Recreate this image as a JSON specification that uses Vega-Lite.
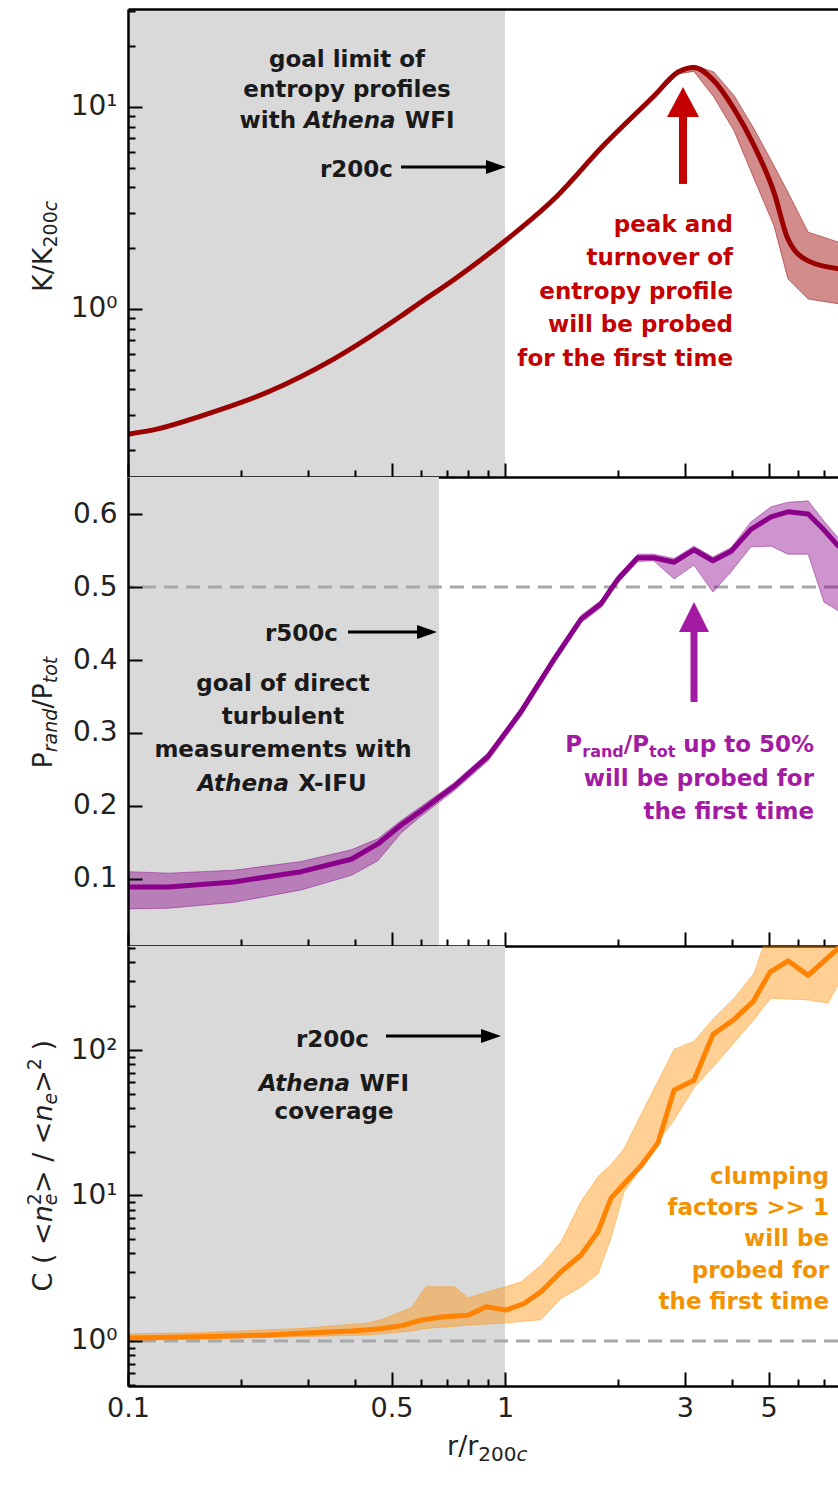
{
"$schema": "https://vega.github.io/schema/vega-lite/v6.json",
"background": "white",
"padding": {"left": 25, "top": 9, "right": 0, "bottom": 5},
"config": {"view": {"stroke": null}, "axis": {"zindex": 1}},
"spacing": 0,
"bounds": "flush",
"datasets": {
"shade1": [{"a": 0.1, "b": 1.0}],
"shade2": [{"a": 0.1, "b": 0.668}],
"shade3": [{"a": 0.1, "b": 1.0}],
"dash2": [{"y": 0.5}],
"dash3": [{"y": 1.0}],
"one1": [{"x": 1, "y": 1}],
"one2": [{"x": 1, "y": 0.3}],
"one3": [{"x": 1, "y": 10}],
"k1": [{"x":0.1,"y":0.24},{"x":0.12,"y":0.255},{"x":0.156,"y":0.295},{"x":0.235,"y":0.388},{"x":0.351,"y":0.565},{"x":0.53,"y":0.923},{"x":0.598,"y":1.08},{"x":0.733,"y":1.4},{"x":1.0,"y":2.17},{"x":1.349,"y":3.5},{"x":1.832,"y":6.5},{"x":2.48,"y":11.3},{"x":2.88,"y":14.9},{"x":3.17,"y":15.7},{"x":3.58,"y":13.5},{"x":4.05,"y":9.78},{"x":4.58,"y":6.43},{"x":5.17,"y":3.78},{"x":5.63,"y":2.22},{"x":6.37,"y":1.73},{"x":7.69,"y":1.58}],
"k1b": [{"x":2.48,"lo":11.1,"hi":11.5},{"x":2.88,"lo":14.6,"hi":15.2},{"x":3.17,"lo":15.0,"hi":16.1},{"x":3.58,"lo":11.2,"hi":14.9},{"x":4.05,"lo":7.63,"hi":11.4},{"x":4.58,"lo":4.4,"hi":7.78},{"x":5.17,"lo":2.58,"hi":5.12},{"x":5.63,"lo":1.41,"hi":3.78},{"x":6.37,"lo":1.12,"hi":2.4},{"x":7.69,"lo":1.06,"hi":2.14}],
"p2": [{"x":0.1,"y":0.089},{"x":0.128,"y":0.089},{"x":0.191,"y":0.096},{"x":0.288,"y":0.11},{"x":0.391,"y":0.127},{"x":0.46,"y":0.148},{"x":0.53,"y":0.174},{"x":0.598,"y":0.193},{"x":0.733,"y":0.227},{"x":0.902,"y":0.268},{"x":1.102,"y":0.329},{"x":1.349,"y":0.401},{"x":1.591,"y":0.456},{"x":1.798,"y":0.477},{"x":1.91,"y":0.497},{"x":1.995,"y":0.511},{"x":2.25,"y":0.54},{"x":2.48,"y":0.54},{"x":2.81,"y":0.534},{"x":3.17,"y":0.551},{"x":3.56,"y":0.536},{"x":3.98,"y":0.549},{"x":4.49,"y":0.579},{"x":5.08,"y":0.596},{"x":5.63,"y":0.603},{"x":6.37,"y":0.6},{"x":7.02,"y":0.578},{"x":7.69,"y":0.555}],
"p2b": [{"x":0.1,"lo":0.059,"hi":0.11},{"x":0.128,"lo":0.06,"hi":0.108},{"x":0.191,"lo":0.068,"hi":0.112},{"x":0.288,"lo":0.085,"hi":0.124},{"x":0.391,"lo":0.105,"hi":0.14},{"x":0.46,"lo":0.125,"hi":0.155},{"x":0.53,"lo":0.163,"hi":0.18},{"x":0.598,"lo":0.186,"hi":0.199},{"x":0.733,"lo":0.221,"hi":0.232},{"x":0.902,"lo":0.262,"hi":0.273},{"x":1.102,"lo":0.323,"hi":0.334},{"x":1.349,"lo":0.395,"hi":0.406},{"x":1.591,"lo":0.451,"hi":0.461},{"x":1.798,"lo":0.472,"hi":0.482},{"x":1.91,"lo":0.492,"hi":0.502},{"x":1.995,"lo":0.506,"hi":0.516},{"x":2.25,"lo":0.535,"hi":0.545},{"x":2.48,"lo":0.536,"hi":0.545},{"x":2.81,"lo":0.511,"hi":0.539},{"x":3.17,"lo":0.53,"hi":0.556},{"x":3.56,"lo":0.493,"hi":0.541},{"x":3.98,"lo":0.521,"hi":0.554},{"x":4.49,"lo":0.555,"hi":0.589},{"x":5.08,"lo":0.556,"hi":0.61},{"x":5.63,"lo":0.545,"hi":0.616},{"x":6.37,"lo":0.545,"hi":0.618},{"x":7.02,"lo":0.479,"hi":0.59},{"x":7.69,"lo":0.467,"hi":0.566}],
"c3": [{"x":0.1,"y":1.05},{"x":0.156,"y":1.07},{"x":0.235,"y":1.1},{"x":0.288,"y":1.13},{"x":0.391,"y":1.17},{"x":0.46,"y":1.21},{"x":0.53,"y":1.27},{"x":0.598,"y":1.39},{"x":0.676,"y":1.46},{"x":0.798,"y":1.5},{"x":0.891,"y":1.72},{"x":1.006,"y":1.63},{"x":1.123,"y":1.81},{"x":1.246,"y":2.18},{"x":1.408,"y":2.99},{"x":1.591,"y":3.9},{"x":1.765,"y":5.65},{"x":1.91,"y":9.59},{"x":2.056,"y":11.8},{"x":2.295,"y":16.0},{"x":2.545,"y":23},{"x":2.808,"y":53},{"x":3.172,"y":62},{"x":3.562,"y":128},{"x":4.026,"y":160},{"x":4.549,"y":215},{"x":5.046,"y":343},{"x":5.63,"y":410},{"x":6.365,"y":326},{"x":7.69,"y":505}],
"c3b": [{"x":0.1,"lo":1.01,"hi":1.12},{"x":0.156,"lo":1.03,"hi":1.14},{"x":0.288,"lo":1.07,"hi":1.22},{"x":0.433,"lo":1.1,"hi":1.33},{"x":0.47,"lo":1.12,"hi":1.4},{"x":0.565,"lo":1.17,"hi":1.7},{"x":0.617,"lo":1.22,"hi":2.36},{"x":0.733,"lo":1.26,"hi":2.36},{"x":0.798,"lo":1.29,"hi":1.98},{"x":0.902,"lo":1.31,"hi":2.18},{"x":1.006,"lo":1.33,"hi":2.36},{"x":1.103,"lo":1.36,"hi":2.55},{"x":1.246,"lo":1.4,"hi":3.32},{"x":1.408,"lo":1.96,"hi":4.8},{"x":1.591,"lo":2.35,"hi":9.09},{"x":1.765,"lo":2.9,"hi":13.5},{"x":1.91,"lo":5.08,"hi":16.3},{"x":2.069,"lo":10.6,"hi":21},{"x":2.254,"lo":14.5,"hi":32.8},{"x":2.484,"lo":21.5,"hi":53.9},{"x":2.808,"lo":33,"hi":101},{"x":3.172,"lo":55,"hi":115},{"x":3.585,"lo":77.8,"hi":166},{"x":4.05,"lo":112,"hi":227},{"x":4.577,"lo":162,"hi":337},{"x":4.835,"lo":195,"hi":512},{"x":5.077,"lo":227,"hi":650},{"x":5.63,"lo":224,"hi":750},{"x":6.365,"lo":221,"hi":700},{"x":7.193,"lo":210,"hi":800},{"x":7.69,"lo":288,"hi":900}],
"ar1": [{"x":0.53,"x2":0.9,"y":5.047,"y2":5.047,"c":"#000000","w":3},{"x":2.966,"x2":2.966,"y":4.16,"y2":8.92,"c":"#c40000","w":8}],
"hd1": [{"x":0.946,"y":5.047,"c":"#000000","sh":"M-1,-0.7L1,0L-1,0.7Z","z":400},{"x":2.966,"y":10.59,"c":"#c40000","sh":"M-1,0.9375L0,-0.9375L1,0.9375Z","z":1024}],
"ar2": [{"x":0.3835,"x2":0.585,"y":0.4384,"y2":0.4384,"c":"#000000","w":3},{"x":3.172,"x2":3.172,"y":0.3425,"y2":0.4425,"c":"#a31aa3","w":7}],
"hd2": [{"x":0.621,"y":0.4384,"c":"#000000","sh":"M-1,-0.7L1,0L-1,0.7Z","z":400},{"x":3.172,"y":0.4589,"c":"#a31aa3","sh":"M-1,1L0,-1L1,1Z","z":900}],
"ar3": [{"x":0.4835,"x2":0.864,"y":124.8,"y2":124.8,"c":"#000000","w":3}],
"hd3": [{"x":0.918,"y":124.8,"c":"#000000","sh":"M-1,-0.7L1,0L-1,0.7Z","z":400}],
"tx1": [
{"s":"tn","x":0.06285,"y":1.214,"t":"K/K","z":27},
{"s":"tn","x":0.06481,"y":2.016,"t":"200","z":19},
{"s":"ti","x":0.06481,"y":3.05,"t":"c","z":19},
{"s":"ac","x":0.381,"y":15.78,"t":"goal limit of\nentropy profiles","c":"#1a1a1a"},
{"s":"al","x":0.1977,"y":7.87,"t":"with","z":23,"c":"#1a1a1a"},
{"s":"ai","x":0.2932,"y":7.87,"t":"Athena","z":23,"c":"#1a1a1a"},
{"s":"al","x":0.5423,"y":7.87,"t":"WFI","z":23,"c":"#1a1a1a"},
{"s":"ar","x":0.5045,"y":4.503,"t":"r200c","c":"#1a1a1a"},
{"s":"ar","x":4.026,"y":2.405,"t":"peak and\nturnover of\nentropy profile\nwill be probed\nfor the first time","c":"#c40000"}
],
"tx2": [
{"s":"tn","x":0.06285,"y":0.2514,"t":"P","z":27},
{"s":"ti","x":0.06481,"y":0.2737,"t":"rand","z":19},
{"s":"tn","x":0.06285,"y":0.3334,"t":"/P","z":27},
{"s":"ti","x":0.06481,"y":0.3682,"t":"tot","z":19},
{"s":"ar","x":0.3606,"y":0.426,"t":"r500c","c":"#1a1a1a"},
{"s":"ac","x":0.2577,"y":0.3575,"t":"goal of direct\nturbulent\nmeasurements with","c":"#1a1a1a"},
{"s":"ai","x":0.1529,"y":0.2205,"t":"Athena","z":23,"c":"#1a1a1a"},
{"s":"al","x":0.2828,"y":0.2205,"t":"X-IFU","z":23,"c":"#1a1a1a"},
{"s":"al","x":1.445,"y":0.274,"t":"P","z":23,"c":"#a31aa3"},
{"s":"al","x":1.603,"y":0.2671,"t":"rand","z":16,"c":"#a31aa3"},
{"s":"al","x":2.065,"y":0.274,"t":"/P","z":23,"c":"#a31aa3"},
{"s":"al","x":2.41,"y":0.2671,"t":"tot","z":16,"c":"#a31aa3"},
{"s":"al","x":2.972,"y":0.274,"t":"up to 50%","z":23,"c":"#a31aa3"},
{"s":"ar","x":6.601,"y":0.2274,"t":"will be probed for\nthe first time","c":"#a31aa3"}
],
"tx3": [
{"s":"tn","x":0.06285,"y":2.189,"t":"C ( <","z":27},
{"s":"ti","x":0.06285,"y":6.544,"t":"n","z":27},
{"s":"tn","x":0.05877,"y":8.578,"t":"2","z":19},
{"s":"ti","x":0.06481,"y":8.578,"t":"e","z":19},
{"s":"tn","x":0.06285,"y":10.39,"t":"> / <","z":27},
{"s":"ti","x":0.06285,"y":32.2,"t":"n","z":27},
{"s":"ti","x":0.06481,"y":42.21,"t":"e","z":19},
{"s":"tn","x":0.06285,"y":50.79,"t":">","z":27},
{"s":"tn","x":0.05877,"y":72.64,"t":"2","z":19},
{"s":"tn","x":0.06285,"y":99.2,"t":")","z":27},
{"s":"xn","x":0.7019,"y":0.1646,"t":"r/r","z":27},
{"s":"xn","x":0.8496,"y":0.1497,"t":"200","z":20},
{"s":"xi","x":1.073,"y":0.1497,"t":"c","z":20},
{"s":"ar","x":0.4358,"y":104.9,"t":"r200c","c":"#1a1a1a"},
{"s":"ai","x":0.2222,"y":52.5,"t":"Athena","z":23,"c":"#1a1a1a"},
{"s":"al","x":0.4113,"y":52.5,"t":"WFI","z":23,"c":"#1a1a1a"},
{"s":"ac","x":0.352,"y":33.5,"t":"coverage","c":"#1a1a1a"},
{"s":"ar","x":7.236,"y":12.0,"t":"clumping\nfactors >> 1\nwill be\nprobed for\nthe first time","c":"#f39200"}
]
},
"vconcat": [
{
"width": 710, "height": 468,
"resolve": {"axis": {"x": "independent", "y": "independent"}},
"layer": [
{"data": {"name": "shade1"}, "mark": {"type": "rect", "color": "#d9d9d9"}, "encoding": {"x": {"field": "a", "type": "quantitative", "scale": {"type": "log", "domain": [0.1, 7.643], "nice": false}, "axis": null}, "x2": {"field": "b"}}},
{"data": {"name": "k1b"}, "mark": {"type": "area", "fill": "#9b0000", "fillOpacity": 0.45, "stroke": "#9b0000", "strokeOpacity": 0.5, "strokeWidth": 1, "clip": true}, "encoding": {"x": {"field": "x", "type": "quantitative", "scale": {"type": "log", "domain": [0.1, 7.643], "nice": false}, "axis": null}, "y": {"field": "lo", "type": "quantitative", "scale": {"type": "log", "domain": [0.1473, 30.55], "nice": false}, "axis": null}, "y2": {"field": "hi"}}},
{"data": {"name": "k1"}, "mark": {"type": "line", "color": "#9b0000", "strokeWidth": 5, "strokeJoin": "round", "interpolate": "monotone", "clip": true}, "encoding": {"x": {"field": "x", "type": "quantitative", "scale": {"type": "log", "domain": [0.1, 7.643], "nice": false}, "axis": null}, "y": {"field": "y", "type": "quantitative", "scale": {"type": "log", "domain": [0.1473, 30.55], "nice": false}, "axis": null}}},
{"data": {"name": "ar1"}, "mark": {"type": "rule", "strokeCap": "butt"}, "encoding": {"x": {"field": "x", "type": "quantitative", "scale": {"type": "log", "domain": [0.1, 7.643], "nice": false}, "axis": null}, "x2": {"field": "x2"}, "y": {"field": "y", "type": "quantitative", "scale": {"type": "log", "domain": [0.1473, 30.55], "nice": false}, "axis": null}, "y2": {"field": "y2"}, "color": {"field": "c", "type": "nominal", "scale": null}, "strokeWidth": {"field": "w", "type": "quantitative", "scale": null}}},
{"data": {"name": "hd1"}, "mark": {"type": "point", "filled": true, "opacity": 1, "strokeWidth": 0}, "encoding": {"x": {"field": "x", "type": "quantitative", "scale": {"type": "log", "domain": [0.1, 7.643], "nice": false}, "axis": null}, "y": {"field": "y", "type": "quantitative", "scale": {"type": "log", "domain": [0.1473, 30.55], "nice": false}, "axis": null}, "color": {"field": "c", "type": "nominal", "scale": null}, "shape": {"field": "sh", "type": "nominal", "scale": null}, "size": {"field": "z", "type": "quantitative", "scale": null}}},
{"data": {"name": "tx1"}, "transform": [{"filter": "datum.s == 'tn'"}], "mark": {"type": "text", "font": "DejaVu Sans", "angle": 270, "align": "left", "baseline": "alphabetic", "color": "#222222"}, "encoding": {"x": {"field": "x", "type": "quantitative", "scale": {"type": "log", "domain": [0.1, 7.643], "nice": false}, "axis": null}, "y": {"field": "y", "type": "quantitative", "scale": {"type": "log", "domain": [0.1473, 30.55], "nice": false}, "axis": null}, "text": {"field": "t", "type": "nominal"}, "size": {"field": "z", "type": "quantitative", "scale": null}}},
{"data": {"name": "tx1"}, "transform": [{"filter": "datum.s == 'ti'"}], "mark": {"type": "text", "font": "DejaVu Sans", "fontStyle": "italic", "angle": 270, "align": "left", "baseline": "alphabetic", "color": "#222222"}, "encoding": {"x": {"field": "x", "type": "quantitative", "scale": {"type": "log", "domain": [0.1, 7.643], "nice": false}, "axis": null}, "y": {"field": "y", "type": "quantitative", "scale": {"type": "log", "domain": [0.1473, 30.55], "nice": false}, "axis": null}, "text": {"field": "t", "type": "nominal"}, "size": {"field": "z", "type": "quantitative", "scale": null}}},
{"data": {"name": "tx1"}, "transform": [{"filter": "datum.s == 'al'"}], "mark": {"type": "text", "font": "DejaVu Sans", "fontWeight": "bold", "align": "left", "baseline": "alphabetic"}, "encoding": {"x": {"field": "x", "type": "quantitative", "scale": {"type": "log", "domain": [0.1, 7.643], "nice": false}, "axis": null}, "y": {"field": "y", "type": "quantitative", "scale": {"type": "log", "domain": [0.1473, 30.55], "nice": false}, "axis": null}, "text": {"field": "t", "type": "nominal"}, "size": {"field": "z", "type": "quantitative", "scale": null}, "color": {"field": "c", "type": "nominal", "scale": null}}},
{"data": {"name": "tx1"}, "transform": [{"filter": "datum.s == 'ai'"}], "mark": {"type": "text", "font": "DejaVu Sans", "fontWeight": "bold", "fontStyle": "italic", "align": "left", "baseline": "alphabetic"}, "encoding": {"x": {"field": "x", "type": "quantitative", "scale": {"type": "log", "domain": [0.1, 7.643], "nice": false}, "axis": null}, "y": {"field": "y", "type": "quantitative", "scale": {"type": "log", "domain": [0.1473, 30.55], "nice": false}, "axis": null}, "text": {"field": "t", "type": "nominal"}, "size": {"field": "z", "type": "quantitative", "scale": null}, "color": {"field": "c", "type": "nominal", "scale": null}}},
{"data": {"name": "tx1"}, "transform": [{"filter": "datum.s == 'ac'"}], "mark": {"type": "text", "font": "DejaVu Sans", "fontWeight": "bold", "fontSize": 23, "align": "center", "baseline": "alphabetic", "lineBreak": "\n", "lineHeight": 30.5}, "encoding": {"x": {"field": "x", "type": "quantitative", "scale": {"type": "log", "domain": [0.1, 7.643], "nice": false}, "axis": null}, "y": {"field": "y", "type": "quantitative", "scale": {"type": "log", "domain": [0.1473, 30.55], "nice": false}, "axis": null}, "text": {"field": "t", "type": "nominal"}, "color": {"field": "c", "type": "nominal", "scale": null}}},
{"data": {"name": "tx1"}, "transform": [{"filter": "datum.s == 'ar'"}], "mark": {"type": "text", "font": "DejaVu Sans", "fontWeight": "bold", "fontSize": 23, "align": "right", "baseline": "alphabetic", "lineBreak": "\n", "lineHeight": 33.5}, "encoding": {"x": {"field": "x", "type": "quantitative", "scale": {"type": "log", "domain": [0.1, 7.643], "nice": false}, "axis": null}, "y": {"field": "y", "type": "quantitative", "scale": {"type": "log", "domain": [0.1473, 30.55], "nice": false}, "axis": null}, "text": {"field": "t", "type": "nominal"}, "color": {"field": "c", "type": "nominal", "scale": null}}},
{"data": {"name": "one1"}, "mark": {"type": "point", "opacity": 0}, "encoding": {"x": {"field": "x", "type": "quantitative", "scale": {"type": "log", "domain": [0.1, 7.643], "nice": false}, "axis": {"orient": "bottom", "values": [0.1, 0.5, 1, 3, 5], "labels": false, "tickSize": -14, "tickWidth": 2, "tickColor": "#000000", "domain": true, "domainColor": "#000000", "domainWidth": 2.5, "grid": false, "title": null, "zindex": 1}}, "y": {"field": "y", "type": "quantitative", "scale": {"type": "log", "domain": [0.1473, 30.55], "nice": false}, "axis": {"orient": "left", "values": [1, 10], "labelExpr": "datum.value == 1 ? '10⁰' : '10¹'", "labelFont": "DejaVu Sans", "labelFontSize": 28, "labelColor": "#222222", "labelPadding": 25, "labelFlush": false, "labelOverlap": false, "tickSize": -14, "tickWidth": 2, "tickColor": "#000000", "domain": true, "domainColor": "#000000", "domainWidth": 2.5, "grid": false, "title": null, "zindex": 1}}}},
{"data": {"name": "one1"}, "mark": {"type": "point", "opacity": 0}, "encoding": {"x": {"field": "x", "type": "quantitative", "scale": {"type": "log", "domain": [0.1, 7.643], "nice": false}, "axis": {"orient": "bottom", "values": [0.2, 0.3, 0.4, 0.6, 0.7, 0.8, 0.9, 2, 4, 6, 7], "labels": false, "tickSize": -7, "tickWidth": 2, "tickColor": "#000000", "domain": false, "grid": false, "title": null, "zindex": 1}}, "y": {"field": "y", "type": "quantitative", "scale": {"type": "log", "domain": [0.1473, 30.55], "nice": false}, "axis": {"orient": "left", "values": [0.2, 0.3, 0.4, 0.5, 0.6, 0.7, 0.8, 0.9, 2, 3, 4, 5, 6, 7, 8, 9, 20, 30], "labels": false, "tickSize": -7, "tickWidth": 2, "tickColor": "#000000", "domain": false, "grid": false, "title": null, "zindex": 1}}}},
{"data": {"name": "one1"}, "mark": {"type": "point", "opacity": 0}, "encoding": {"x": {"field": "x", "type": "quantitative", "scale": {"type": "log", "domain": [0.1, 7.643], "nice": false}, "axis": {"orient": "top", "ticks": false, "labels": false, "domain": true, "domainColor": "#000000", "domainWidth": 2.5, "grid": false, "title": null, "zindex": 1}}, "y": {"field": "y", "type": "quantitative", "scale": {"type": "log", "domain": [0.1473, 30.55], "nice": false}, "axis": null}}}
]
},
{
"width": 710, "height": 469,
"resolve": {"axis": {"x": "independent", "y": "independent"}},
"layer": [
{"data": {"name": "shade2"}, "mark": {"type": "rect", "color": "#d9d9d9"}, "encoding": {"x": {"field": "a", "type": "quantitative", "scale": {"type": "log", "domain": [0.1, 7.643], "nice": false}, "axis": null}, "x2": {"field": "b"}}},
{"data": {"name": "dash2"}, "mark": {"type": "rule", "color": "#a8a8a8", "strokeWidth": 3, "strokeDash": [14, 8]}, "encoding": {"y": {"field": "y", "type": "quantitative", "scale": {"type": "linear", "domain": [0.0082, 0.6507], "nice": false, "zero": false}, "axis": null}}},
{"data": {"name": "p2b"}, "mark": {"type": "area", "fill": "#8a008a", "fillOpacity": 0.42, "stroke": "#8a008a", "strokeOpacity": 0.45, "strokeWidth": 1, "clip": true}, "encoding": {"x": {"field": "x", "type": "quantitative", "scale": {"type": "log", "domain": [0.1, 7.643], "nice": false}, "axis": null}, "y": {"field": "lo", "type": "quantitative", "scale": {"type": "linear", "domain": [0.0082, 0.6507], "nice": false, "zero": false}, "axis": null}, "y2": {"field": "hi"}}},
{"data": {"name": "p2"}, "mark": {"type": "line", "color": "#8a008a", "strokeWidth": 5, "strokeJoin": "round", "clip": true}, "encoding": {"x": {"field": "x", "type": "quantitative", "scale": {"type": "log", "domain": [0.1, 7.643], "nice": false}, "axis": null}, "y": {"field": "y", "type": "quantitative", "scale": {"type": "linear", "domain": [0.0082, 0.6507], "nice": false, "zero": false}, "axis": null}}},
{"data": {"name": "ar2"}, "mark": {"type": "rule", "strokeCap": "butt"}, "encoding": {"x": {"field": "x", "type": "quantitative", "scale": {"type": "log", "domain": [0.1, 7.643], "nice": false}, "axis": null}, "x2": {"field": "x2"}, "y": {"field": "y", "type": "quantitative", "scale": {"type": "linear", "domain": [0.0082, 0.6507], "nice": false, "zero": false}, "axis": null}, "y2": {"field": "y2"}, "color": {"field": "c", "type": "nominal", "scale": null}, "strokeWidth": {"field": "w", "type": "quantitative", "scale": null}}},
{"data": {"name": "hd2"}, "mark": {"type": "point", "filled": true, "opacity": 1, "strokeWidth": 0}, "encoding": {"x": {"field": "x", "type": "quantitative", "scale": {"type": "log", "domain": [0.1, 7.643], "nice": false}, "axis": null}, "y": {"field": "y", "type": "quantitative", "scale": {"type": "linear", "domain": [0.0082, 0.6507], "nice": false, "zero": false}, "axis": null}, "color": {"field": "c", "type": "nominal", "scale": null}, "shape": {"field": "sh", "type": "nominal", "scale": null}, "size": {"field": "z", "type": "quantitative", "scale": null}}},
{"data": {"name": "tx2"}, "transform": [{"filter": "datum.s == 'tn'"}], "mark": {"type": "text", "font": "DejaVu Sans", "angle": 270, "align": "left", "baseline": "alphabetic", "color": "#222222"}, "encoding": {"x": {"field": "x", "type": "quantitative", "scale": {"type": "log", "domain": [0.1, 7.643], "nice": false}, "axis": null}, "y": {"field": "y", "type": "quantitative", "scale": {"type": "linear", "domain": [0.0082, 0.6507], "nice": false, "zero": false}, "axis": null}, "text": {"field": "t", "type": "nominal"}, "size": {"field": "z", "type": "quantitative", "scale": null}}},
{"data": {"name": "tx2"}, "transform": [{"filter": "datum.s == 'ti'"}], "mark": {"type": "text", "font": "DejaVu Sans", "fontStyle": "italic", "angle": 270, "align": "left", "baseline": "alphabetic", "color": "#222222"}, "encoding": {"x": {"field": "x", "type": "quantitative", "scale": {"type": "log", "domain": [0.1, 7.643], "nice": false}, "axis": null}, "y": {"field": "y", "type": "quantitative", "scale": {"type": "linear", "domain": [0.0082, 0.6507], "nice": false, "zero": false}, "axis": null}, "text": {"field": "t", "type": "nominal"}, "size": {"field": "z", "type": "quantitative", "scale": null}}},
{"data": {"name": "tx2"}, "transform": [{"filter": "datum.s == 'al'"}], "mark": {"type": "text", "font": "DejaVu Sans", "fontWeight": "bold", "align": "left", "baseline": "alphabetic"}, "encoding": {"x": {"field": "x", "type": "quantitative", "scale": {"type": "log", "domain": [0.1, 7.643], "nice": false}, "axis": null}, "y": {"field": "y", "type": "quantitative", "scale": {"type": "linear", "domain": [0.0082, 0.6507], "nice": false, "zero": false}, "axis": null}, "text": {"field": "t", "type": "nominal"}, "size": {"field": "z", "type": "quantitative", "scale": null}, "color": {"field": "c", "type": "nominal", "scale": null}}},
{"data": {"name": "tx2"}, "transform": [{"filter": "datum.s == 'ai'"}], "mark": {"type": "text", "font": "DejaVu Sans", "fontWeight": "bold", "fontStyle": "italic", "align": "left", "baseline": "alphabetic"}, "encoding": {"x": {"field": "x", "type": "quantitative", "scale": {"type": "log", "domain": [0.1, 7.643], "nice": false}, "axis": null}, "y": {"field": "y", "type": "quantitative", "scale": {"type": "linear", "domain": [0.0082, 0.6507], "nice": false, "zero": false}, "axis": null}, "text": {"field": "t", "type": "nominal"}, "size": {"field": "z", "type": "quantitative", "scale": null}, "color": {"field": "c", "type": "nominal", "scale": null}}},
{"data": {"name": "tx2"}, "transform": [{"filter": "datum.s == 'ac'"}], "mark": {"type": "text", "font": "DejaVu Sans", "fontWeight": "bold", "fontSize": 23, "align": "center", "baseline": "alphabetic", "lineBreak": "\n", "lineHeight": 33}, "encoding": {"x": {"field": "x", "type": "quantitative", "scale": {"type": "log", "domain": [0.1, 7.643], "nice": false}, "axis": null}, "y": {"field": "y", "type": "quantitative", "scale": {"type": "linear", "domain": [0.0082, 0.6507], "nice": false, "zero": false}, "axis": null}, "text": {"field": "t", "type": "nominal"}, "color": {"field": "c", "type": "nominal", "scale": null}}},
{"data": {"name": "tx2"}, "transform": [{"filter": "datum.s == 'ar'"}], "mark": {"type": "text", "font": "DejaVu Sans", "fontWeight": "bold", "fontSize": 23, "align": "right", "baseline": "alphabetic", "lineBreak": "\n", "lineHeight": 33}, "encoding": {"x": {"field": "x", "type": "quantitative", "scale": {"type": "log", "domain": [0.1, 7.643], "nice": false}, "axis": null}, "y": {"field": "y", "type": "quantitative", "scale": {"type": "linear", "domain": [0.0082, 0.6507], "nice": false, "zero": false}, "axis": null}, "text": {"field": "t", "type": "nominal"}, "color": {"field": "c", "type": "nominal", "scale": null}}},
{"data": {"name": "one2"}, "mark": {"type": "point", "opacity": 0}, "encoding": {"x": {"field": "x", "type": "quantitative", "scale": {"type": "log", "domain": [0.1, 7.643], "nice": false}, "axis": {"orient": "bottom", "values": [0.1, 0.5, 1, 3, 5], "labels": false, "tickSize": -14, "tickWidth": 2, "tickColor": "#000000", "domain": true, "domainColor": "#000000", "domainWidth": 2.5, "grid": false, "title": null, "zindex": 1}}, "y": {"field": "y", "type": "quantitative", "scale": {"type": "linear", "domain": [0.0082, 0.6507], "nice": false, "zero": false}, "axis": {"orient": "left", "values": [0.1, 0.2, 0.3, 0.4, 0.5, 0.6], "format": ".1f", "labelFont": "DejaVu Sans", "labelFontSize": 28, "labelColor": "#222222", "labelPadding": 25, "labelFlush": false, "labelOverlap": false, "tickSize": -14, "tickWidth": 2, "tickColor": "#000000", "domain": true, "domainColor": "#000000", "domainWidth": 2.5, "grid": false, "title": null, "zindex": 1}}}},
{"data": {"name": "one2"}, "mark": {"type": "point", "opacity": 0}, "encoding": {"x": {"field": "x", "type": "quantitative", "scale": {"type": "log", "domain": [0.1, 7.643], "nice": false}, "axis": {"orient": "bottom", "values": [0.2, 0.3, 0.4, 0.6, 0.7, 0.8, 0.9, 2, 4, 6, 7], "labels": false, "tickSize": -7, "tickWidth": 2, "tickColor": "#000000", "domain": false, "grid": false, "title": null, "zindex": 1}}, "y": {"field": "y", "type": "quantitative", "scale": {"type": "linear", "domain": [0.0082, 0.6507], "nice": false, "zero": false}, "axis": null}}}
]
},
{
"width": 710, "height": 440,
"resolve": {"axis": {"x": "independent", "y": "independent"}},
"layer": [
{"data": {"name": "shade3"}, "mark": {"type": "rect", "color": "#d9d9d9"}, "encoding": {"x": {"field": "a", "type": "quantitative", "scale": {"type": "log", "domain": [0.1, 7.643], "nice": false}, "axis": null}, "x2": {"field": "b"}}},
{"data": {"name": "dash3"}, "mark": {"type": "rule", "color": "#a8a8a8", "strokeWidth": 3, "strokeDash": [14, 8]}, "encoding": {"y": {"field": "y", "type": "quantitative", "scale": {"type": "log", "domain": [0.4905, 518.6], "nice": false}, "axis": null}}},
{"data": {"name": "c3b"}, "mark": {"type": "area", "fill": "#ff8c00", "fillOpacity": 0.42, "stroke": "#ff8c00", "strokeOpacity": 0.4, "strokeWidth": 1, "clip": true}, "encoding": {"x": {"field": "x", "type": "quantitative", "scale": {"type": "log", "domain": [0.1, 7.643], "nice": false}, "axis": null}, "y": {"field": "lo", "type": "quantitative", "scale": {"type": "log", "domain": [0.4905, 518.6], "nice": false}, "axis": null}, "y2": {"field": "hi"}}},
{"data": {"name": "c3"}, "mark": {"type": "line", "color": "#ff8200", "strokeWidth": 5, "strokeJoin": "round", "clip": true}, "encoding": {"x": {"field": "x", "type": "quantitative", "scale": {"type": "log", "domain": [0.1, 7.643], "nice": false}, "axis": null}, "y": {"field": "y", "type": "quantitative", "scale": {"type": "log", "domain": [0.4905, 518.6], "nice": false}, "axis": null}}},
{"data": {"name": "ar3"}, "mark": {"type": "rule", "strokeCap": "butt"}, "encoding": {"x": {"field": "x", "type": "quantitative", "scale": {"type": "log", "domain": [0.1, 7.643], "nice": false}, "axis": null}, "x2": {"field": "x2"}, "y": {"field": "y", "type": "quantitative", "scale": {"type": "log", "domain": [0.4905, 518.6], "nice": false}, "axis": null}, "y2": {"field": "y2"}, "color": {"field": "c", "type": "nominal", "scale": null}, "strokeWidth": {"field": "w", "type": "quantitative", "scale": null}}},
{"data": {"name": "hd3"}, "mark": {"type": "point", "filled": true, "opacity": 1, "strokeWidth": 0}, "encoding": {"x": {"field": "x", "type": "quantitative", "scale": {"type": "log", "domain": [0.1, 7.643], "nice": false}, "axis": null}, "y": {"field": "y", "type": "quantitative", "scale": {"type": "log", "domain": [0.4905, 518.6], "nice": false}, "axis": null}, "color": {"field": "c", "type": "nominal", "scale": null}, "shape": {"field": "sh", "type": "nominal", "scale": null}, "size": {"field": "z", "type": "quantitative", "scale": null}}},
{"data": {"name": "tx3"}, "transform": [{"filter": "datum.s == 'tn'"}], "mark": {"type": "text", "font": "DejaVu Sans", "angle": 270, "align": "left", "baseline": "alphabetic", "color": "#222222"}, "encoding": {"x": {"field": "x", "type": "quantitative", "scale": {"type": "log", "domain": [0.1, 7.643], "nice": false}, "axis": null}, "y": {"field": "y", "type": "quantitative", "scale": {"type": "log", "domain": [0.4905, 518.6], "nice": false}, "axis": null}, "text": {"field": "t", "type": "nominal"}, "size": {"field": "z", "type": "quantitative", "scale": null}}},
{"data": {"name": "tx3"}, "transform": [{"filter": "datum.s == 'ti'"}], "mark": {"type": "text", "font": "DejaVu Sans", "fontStyle": "italic", "angle": 270, "align": "left", "baseline": "alphabetic", "color": "#222222"}, "encoding": {"x": {"field": "x", "type": "quantitative", "scale": {"type": "log", "domain": [0.1, 7.643], "nice": false}, "axis": null}, "y": {"field": "y", "type": "quantitative", "scale": {"type": "log", "domain": [0.4905, 518.6], "nice": false}, "axis": null}, "text": {"field": "t", "type": "nominal"}, "size": {"field": "z", "type": "quantitative", "scale": null}}},
{"data": {"name": "tx3"}, "transform": [{"filter": "datum.s == 'xn'"}], "mark": {"type": "text", "font": "DejaVu Sans", "align": "left", "baseline": "alphabetic", "color": "#222222"}, "encoding": {"x": {"field": "x", "type": "quantitative", "scale": {"type": "log", "domain": [0.1, 7.643], "nice": false}, "axis": null}, "y": {"field": "y", "type": "quantitative", "scale": {"type": "log", "domain": [0.4905, 518.6], "nice": false}, "axis": null}, "text": {"field": "t", "type": "nominal"}, "size": {"field": "z", "type": "quantitative", "scale": null}}},
{"data": {"name": "tx3"}, "transform": [{"filter": "datum.s == 'xi'"}], "mark": {"type": "text", "font": "DejaVu Sans", "fontStyle": "italic", "align": "left", "baseline": "alphabetic", "color": "#222222"}, "encoding": {"x": {"field": "x", "type": "quantitative", "scale": {"type": "log", "domain": [0.1, 7.643], "nice": false}, "axis": null}, "y": {"field": "y", "type": "quantitative", "scale": {"type": "log", "domain": [0.4905, 518.6], "nice": false}, "axis": null}, "text": {"field": "t", "type": "nominal"}, "size": {"field": "z", "type": "quantitative", "scale": null}}},
{"data": {"name": "tx3"}, "transform": [{"filter": "datum.s == 'al'"}], "mark": {"type": "text", "font": "DejaVu Sans", "fontWeight": "bold", "align": "left", "baseline": "alphabetic"}, "encoding": {"x": {"field": "x", "type": "quantitative", "scale": {"type": "log", "domain": [0.1, 7.643], "nice": false}, "axis": null}, "y": {"field": "y", "type": "quantitative", "scale": {"type": "log", "domain": [0.4905, 518.6], "nice": false}, "axis": null}, "text": {"field": "t", "type": "nominal"}, "size": {"field": "z", "type": "quantitative", "scale": null}, "color": {"field": "c", "type": "nominal", "scale": null}}},
{"data": {"name": "tx3"}, "transform": [{"filter": "datum.s == 'ai'"}], "mark": {"type": "text", "font": "DejaVu Sans", "fontWeight": "bold", "fontStyle": "italic", "align": "left", "baseline": "alphabetic"}, "encoding": {"x": {"field": "x", "type": "quantitative", "scale": {"type": "log", "domain": [0.1, 7.643], "nice": false}, "axis": null}, "y": {"field": "y", "type": "quantitative", "scale": {"type": "log", "domain": [0.4905, 518.6], "nice": false}, "axis": null}, "text": {"field": "t", "type": "nominal"}, "size": {"field": "z", "type": "quantitative", "scale": null}, "color": {"field": "c", "type": "nominal", "scale": null}}},
{"data": {"name": "tx3"}, "transform": [{"filter": "datum.s == 'ac'"}], "mark": {"type": "text", "font": "DejaVu Sans", "fontWeight": "bold", "fontSize": 23, "align": "center", "baseline": "alphabetic", "lineBreak": "\n", "lineHeight": 29}, "encoding": {"x": {"field": "x", "type": "quantitative", "scale": {"type": "log", "domain": [0.1, 7.643], "nice": false}, "axis": null}, "y": {"field": "y", "type": "quantitative", "scale": {"type": "log", "domain": [0.4905, 518.6], "nice": false}, "axis": null}, "text": {"field": "t", "type": "nominal"}, "color": {"field": "c", "type": "nominal", "scale": null}}},
{"data": {"name": "tx3"}, "transform": [{"filter": "datum.s == 'ar'"}], "mark": {"type": "text", "font": "DejaVu Sans", "fontWeight": "bold", "fontSize": 23, "align": "right", "baseline": "alphabetic", "lineBreak": "\n", "lineHeight": 31.2}, "encoding": {"x": {"field": "x", "type": "quantitative", "scale": {"type": "log", "domain": [0.1, 7.643], "nice": false}, "axis": null}, "y": {"field": "y", "type": "quantitative", "scale": {"type": "log", "domain": [0.4905, 518.6], "nice": false}, "axis": null}, "text": {"field": "t", "type": "nominal"}, "color": {"field": "c", "type": "nominal", "scale": null}}},
{"data": {"name": "one3"}, "mark": {"type": "point", "opacity": 0}, "encoding": {"x": {"field": "x", "type": "quantitative", "scale": {"type": "log", "domain": [0.1, 7.643], "nice": false}, "axis": {"orient": "bottom", "values": [0.1, 0.5, 1, 3, 5], "format": "~g", "labelFont": "DejaVu Sans", "labelFontSize": 27, "labelColor": "#222222", "labelPadding": 23, "labelFlush": false, "labelOverlap": false, "tickSize": -14, "tickWidth": 2, "tickColor": "#000000", "domain": true, "domainColor": "#000000", "domainWidth": 2.5, "grid": false, "title": null, "zindex": 1}}, "y": {"field": "y", "type": "quantitative", "scale": {"type": "log", "domain": [0.4905, 518.6], "nice": false}, "axis": {"orient": "left", "values": [1, 10, 100], "labelExpr": "datum.value == 1 ? '10⁰' : (datum.value == 10 ? '10¹' : '10²')", "labelFont": "DejaVu Sans", "labelFontSize": 28, "labelColor": "#222222", "labelPadding": 25, "labelFlush": false, "labelOverlap": false, "tickSize": -14, "tickWidth": 2, "tickColor": "#000000", "domain": true, "domainColor": "#000000", "domainWidth": 2.5, "grid": false, "title": null, "zindex": 1}}}},
{"data": {"name": "one3"}, "mark": {"type": "point", "opacity": 0}, "encoding": {"x": {"field": "x", "type": "quantitative", "scale": {"type": "log", "domain": [0.1, 7.643], "nice": false}, "axis": {"orient": "bottom", "values": [0.2, 0.3, 0.4, 0.6, 0.7, 0.8, 0.9, 2, 4, 6, 7], "labels": false, "tickSize": -7, "tickWidth": 2, "tickColor": "#000000", "domain": false, "grid": false, "title": null, "zindex": 1}}, "y": {"field": "y", "type": "quantitative", "scale": {"type": "log", "domain": [0.4905, 518.6], "nice": false}, "axis": {"orient": "left", "values": [0.5, 0.6, 0.7, 0.8, 0.9, 2, 3, 4, 5, 6, 7, 8, 9, 20, 30, 40, 50, 60, 70, 80, 90, 200, 300, 400, 500], "labels": false, "tickSize": -7, "tickWidth": 2, "tickColor": "#000000", "domain": false, "grid": false, "title": null, "zindex": 1}}}}
]
}
]
}
